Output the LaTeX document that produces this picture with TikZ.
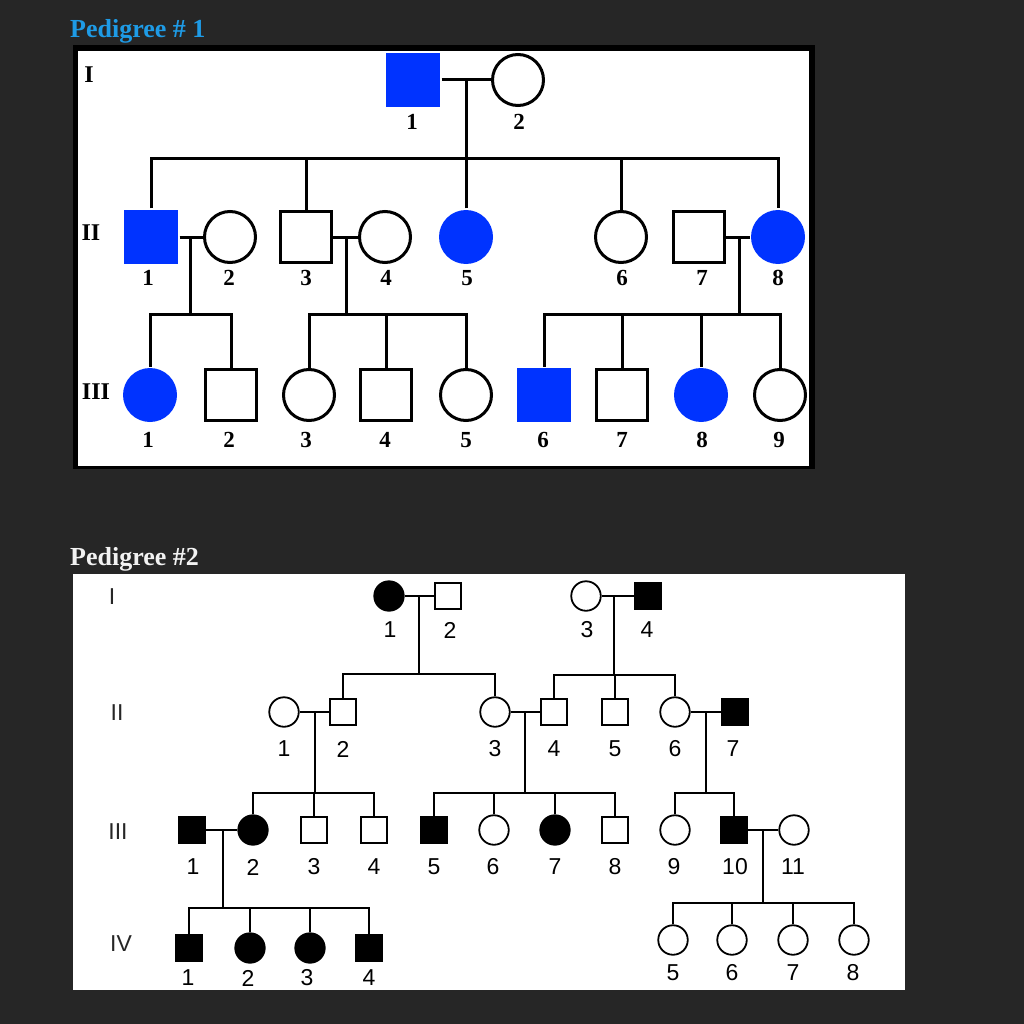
\documentclass[tikz,border=0pt]{standalone}
\usepackage{fontspec}
\setmainfont{Liberation Serif}
\setsansfont{Liberation Sans}
\usepackage{xcolor}
\usepackage{tikz}

\definecolor{bgdark}{RGB}{38,38,38}
\definecolor{affblue}{RGB}{0,51,255}
\definecolor{titleblue}{RGB}{30,155,230}
\definecolor{titlegray}{RGB}{242,242,242}

\begin{document}
\begin{tikzpicture}[
  x=1pt,y=-1pt,
  lineA/.style={line width=3pt},
  lineB/.style={line width=1.8pt},
  maleA/.style={draw,rectangle,line width=3pt,minimum size=51pt,inner sep=0pt,fill=white},
  femaleA/.style={draw,circle,line width=3pt,minimum size=51pt,inner sep=0pt,fill=white},
  affA/.style={draw=none,fill=affblue,minimum size=54pt},
  numA/.style={font=\fontsize{23}{23}\selectfont\bfseries,inner sep=0pt},
  genA/.style={font=\fontsize{24}{24}\selectfont\bfseries,inner sep=0pt},
  maleB/.style={draw,rectangle,line width=1.8pt,minimum size=25.5pt,inner sep=0pt,fill=white},
  femaleB/.style={draw,circle,line width=1.8pt,minimum size=29.5pt,inner sep=0pt,fill=white},
  affB/.style={fill=black},
  numB/.style={font=\sffamily\fontsize{23}{23}\selectfont,inner sep=0pt},
  genB/.style={font=\sffamily\fontsize{23}{23}\selectfont,inner sep=0pt,black!85},
  title/.style={anchor=base west,inner sep=0pt,font=\fontsize{26}{26}\selectfont\bfseries}
]
\useasboundingbox (0,0) rectangle (1024,1024);
\fill[bgdark] (0,0) rectangle (1024,1024);

% pedigree 1
\node[title,titleblue] (tA) at (70,38) {Pedigree \# 1};
\fill[black] (73,45) rectangle (815,469);
\fill[white] (78,51) rectangle (809,466);

\node[genA] (aGI) at (89,75) {I};
\node[genA] (aGII) at (91,233) {II};
\node[genA] (aGIII) at (96,392) {III};

\node[maleA,affA] (aI1) at (413,80) {};
\node[femaleA] (aI2) at (518,80) {};
\node[numA] (aI1n) at (412,122) {1};
\node[numA] (aI2n) at (519,122) {2};
\coordinate (mA1) at (466,80);
\coordinate (sA1) at (466,159);
\draw[lineA] (aI1) -- (aI2);
\draw[lineA] (mA1) -- (sA1);

\node[maleA,affA] (aII1) at (151,237) {};
\node[femaleA] (aII2) at (230,237) {};
\node[maleA] (aII3) at (306,237) {};
\node[femaleA] (aII4) at (385,237) {};
\node[femaleA,affA] (aII5) at (466,237) {};
\node[femaleA] (aII6) at (621,237) {};
\node[maleA] (aII7) at (699,237) {};
\node[femaleA,affA] (aII8) at (778,237) {};
\node[numA] (aII1n) at (148,278) {1};
\node[numA] (aII2n) at (229,278) {2};
\node[numA] (aII3n) at (306,278) {3};
\node[numA] (aII4n) at (386,278) {4};
\node[numA] (aII5n) at (467,278) {5};
\node[numA] (aII6n) at (622,278) {6};
\node[numA] (aII7n) at (702,278) {7};
\node[numA] (aII8n) at (778,278) {8};
\draw[lineA] (aII1) |- (sA1) -| (aII8);
\draw[lineA] (aII3) -- (aII3 |- sA1);
\draw[lineA] (aII5) -- (aII5 |- sA1);
\draw[lineA] (aII6) -- (aII6 |- sA1);

\coordinate (mA2) at (190,237);
\coordinate (sA2) at (190,314);
\coordinate (mA3) at (346,237);
\coordinate (sA3) at (346,314);
\coordinate (mA4) at (739,237);
\coordinate (sA4) at (739,314);
\draw[lineA] (aII1) -- (aII2);
\draw[lineA] (aII3) -- (aII4);
\draw[lineA] (aII7) -- (aII8);
\draw[lineA] (mA2) -- (sA2);
\draw[lineA] (mA3) -- (sA3);
\draw[lineA] (mA4) -- (sA4);

\node[femaleA,affA] (aIII1) at (150,395) {};
\node[maleA] (aIII2) at (231,395) {};
\node[femaleA] (aIII3) at (309,395) {};
\node[maleA] (aIII4) at (386,395) {};
\node[femaleA] (aIII5) at (466,395) {};
\node[maleA,affA] (aIII6) at (544,395) {};
\node[maleA] (aIII7) at (622,395) {};
\node[femaleA,affA] (aIII8) at (701,395) {};
\node[femaleA] (aIII9) at (780,395) {};
\node[numA] (aIII1n) at (148,440) {1};
\node[numA] (aIII2n) at (229,440) {2};
\node[numA] (aIII3n) at (306,440) {3};
\node[numA] (aIII4n) at (385,440) {4};
\node[numA] (aIII5n) at (466,440) {5};
\node[numA] (aIII6n) at (543,440) {6};
\node[numA] (aIII7n) at (622,440) {7};
\node[numA] (aIII8n) at (702,440) {8};
\node[numA] (aIII9n) at (779,440) {9};
\draw[lineA] (aIII1) |- (sA2) -| (aIII2);
\draw[lineA] (aIII3) |- (sA3) -| (aIII5);
\draw[lineA] (aIII4) -- (aIII4 |- sA3);
\draw[lineA] (aIII6) |- (sA4) -| (aIII9);
\draw[lineA] (aIII7) -- (aIII7 |- sA4);
\draw[lineA] (aIII8) -- (aIII8 |- sA4);

% pedigree 2
\node[title,titlegray] (tB) at (70,565) {Pedigree \#2};
\fill[white] (73,574) rectangle (905,990);

\node[genB] (bGI) at (112,597) {I};
\node[genB] (bGII) at (117,713) {II};
\node[genB] (bGIII) at (118,832) {III};
\node[genB] (bGIV) at (121,944) {IV};

\node[femaleB,affB] (bI1) at (389,596) {};
\node[maleB] (bI2) at (448,596) {};
\node[femaleB] (bI3) at (586,596) {};
\node[maleB,affB] (bI4) at (648,596) {};
\node[numB] (bI1n) at (390,630) {1};
\node[numB] (bI2n) at (450,630) {2};
\node[numB] (bI3n) at (587,630) {3};
\node[numB] (bI4n) at (647,630) {4};
\coordinate (mB1) at (419,596);
\coordinate (sB1) at (419,674);
\coordinate (mB2) at (614,596);
\coordinate (sB2) at (614,675);
\draw[lineB] (bI1) -- (bI2);
\draw[lineB] (bI3) -- (bI4);
\draw[lineB] (mB1) -- (sB1);
\draw[lineB] (mB2) -- (sB2);

\node[femaleB] (bII1) at (284,712) {};
\node[maleB] (bII2) at (343,712) {};
\node[femaleB] (bII3) at (495,712) {};
\node[maleB] (bII4) at (554,712) {};
\node[maleB] (bII5) at (615,712) {};
\node[femaleB] (bII6) at (675,712) {};
\node[maleB,affB] (bII7) at (735,712) {};
\node[numB] (bII1n) at (284,749) {1};
\node[numB] (bII2n) at (343,749) {2};
\node[numB] (bII3n) at (495,749) {3};
\node[numB] (bII4n) at (554,749) {4};
\node[numB] (bII5n) at (615,749) {5};
\node[numB] (bII6n) at (675,749) {6};
\node[numB] (bII7n) at (733,749) {7};
\draw[lineB] (bII2) |- (sB1) -| (bII3);
\draw[lineB] (bII4) |- (sB2) -| (bII6);
\draw[lineB] (bII5) -- (bII5 |- sB2);

\coordinate (mB3) at (315,712);
\coordinate (sB3) at (315,793);
\coordinate (mB4) at (525,712);
\coordinate (sB4) at (525,793);
\coordinate (mB5) at (706,712);
\coordinate (sB5) at (706,793);
\draw[lineB] (bII1) -- (bII2);
\draw[lineB] (bII3) -- (bII4);
\draw[lineB] (bII6) -- (bII7);
\draw[lineB] (mB3) -- (sB3);
\draw[lineB] (mB4) -- (sB4);
\draw[lineB] (mB5) -- (sB5);

\node[maleB,affB] (bIII1) at (192,830) {};
\node[femaleB,affB] (bIII2) at (253,830) {};
\node[maleB] (bIII3) at (314,830) {};
\node[maleB] (bIII4) at (374,830) {};
\node[maleB,affB] (bIII5) at (434,830) {};
\node[femaleB] (bIII6) at (494,830) {};
\node[femaleB,affB] (bIII7) at (555,830) {};
\node[maleB] (bIII8) at (615,830) {};
\node[femaleB] (bIII9) at (675,830) {};
\node[maleB,affB] (bIII10) at (734,830) {};
\node[femaleB] (bIII11) at (794,830) {};
\node[numB] (bIII1n) at (193,867) {1};
\node[numB] (bIII2n) at (253,867) {2};
\node[numB] (bIII3n) at (314,867) {3};
\node[numB] (bIII4n) at (374,867) {4};
\node[numB] (bIII5n) at (434,867) {5};
\node[numB] (bIII6n) at (493,867) {6};
\node[numB] (bIII7n) at (555,867) {7};
\node[numB] (bIII8n) at (615,867) {8};
\node[numB] (bIII9n) at (674,867) {9};
\node[numB] (bIII10n) at (735,867) {10};
\node[numB] (bIII11n) at (793,867) {11};
\draw[lineB] (bIII2) |- (sB3) -| (bIII4);
\draw[lineB] (bIII3) -- (bIII3 |- sB3);
\draw[lineB] (bIII5) |- (sB4) -| (bIII8);
\draw[lineB] (bIII6) -- (bIII6 |- sB4);
\draw[lineB] (bIII7) -- (bIII7 |- sB4);
\draw[lineB] (bIII9) |- (sB5) -| (bIII10);

\coordinate (mB6) at (223,830);
\coordinate (sB6) at (223,908);
\coordinate (mB7) at (763,830);
\coordinate (sB7) at (763,903);
\draw[lineB] (bIII1) -- (bIII2);
\draw[lineB] (bIII10) -- (bIII11);
\draw[lineB] (mB6) -- (sB6);
\draw[lineB] (mB7) -- (sB7);

\node[maleB,affB] (bIV1) at (189,948) {};
\node[femaleB,affB] (bIV2) at (250,948) {};
\node[femaleB,affB] (bIV3) at (310,948) {};
\node[maleB,affB] (bIV4) at (369,948) {};
\node[femaleB] (bIV5) at (673,940) {};
\node[femaleB] (bIV6) at (732,940) {};
\node[femaleB] (bIV7) at (793,940) {};
\node[femaleB] (bIV8) at (854,940) {};
\node[numB] (bIV1n) at (188,978) {1};
\node[numB] (bIV2n) at (248,978) {2};
\node[numB] (bIV3n) at (307,978) {3};
\node[numB] (bIV4n) at (369,978) {4};
\node[numB] (bIV5n) at (673,973) {5};
\node[numB] (bIV6n) at (732,973) {6};
\node[numB] (bIV7n) at (793,973) {7};
\node[numB] (bIV8n) at (853,973) {8};
\draw[lineB] (bIV1) |- (sB6) -| (bIV4);
\draw[lineB] (bIV2) -- (bIV2 |- sB6);
\draw[lineB] (bIV3) -- (bIV3 |- sB6);
\draw[lineB] (bIV5) |- (sB7) -| (bIV8);
\draw[lineB] (bIV6) -- (bIV6 |- sB7);
\draw[lineB] (bIV7) -- (bIV7 |- sB7);
\end{tikzpicture}
\end{document}
